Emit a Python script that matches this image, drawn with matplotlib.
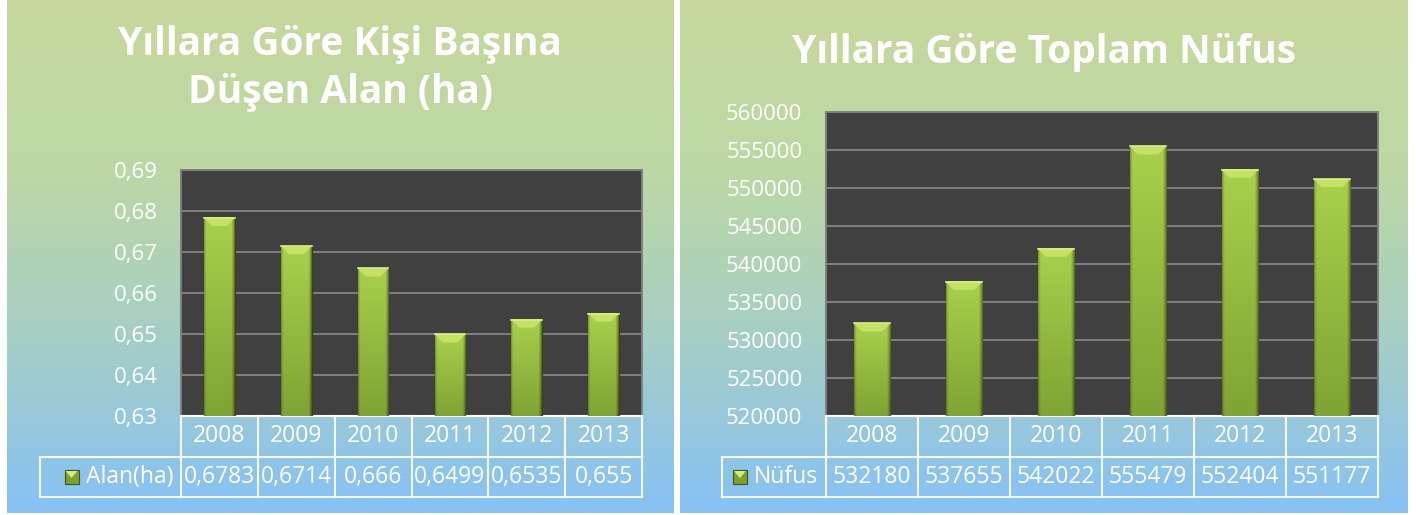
import matplotlib.pyplot as plt
import numpy as np
import matplotlib.transforms as mtransforms
from matplotlib.patches import Rectangle, Polygon
from matplotlib.colors import LinearSegmentedColormap, to_rgb

# data
years = ['2008', '2009', '2010', '2011', '2012', '2013']
alan = [0.6783, 0.6714, 0.666, 0.6499, 0.6535, 0.655]
nufus = [532180, 537655, 542022, 555479, 552404, 551177]
alan_label = 'Alan(ha)'
nufus_label = 'Nüfus'
alan_title = 'Yıllara Göre Kişi Başına\nDüşen Alan (ha)'
nufus_title = 'Yıllara Göre Toplam Nüfus'

plt.rcParams['font.family'] = ['Open Sans', 'DejaVu Sans']

W, H = 1416, 515
fig = plt.figure(figsize=(W / 100, H / 100), dpi=100)
renderer = fig.canvas.get_renderer()


def box(x0, y0, x1, y1):
    # pixel box -> figure fraction [left, bottom, width, height]
    return [x0 / W, 1 - y1 / H, (x1 - x0) / W, (y1 - y0) / H]


bg_cmap = LinearSegmentedColormap.from_list('bg', ['#c6d89c', '#bdd7a5', '#a5cec6', '#87c1f6'])

# shaded bar body: lighter at the top, darker down and at the sides
top_c, bot_c = np.array(to_rgb('#a9d04c')), np.array(to_rgb('#80a334'))
tv = np.linspace(1, 0, 200).reshape(-1, 1, 1)
body = bot_c + (top_c - bot_c) * tv
body = np.repeat(body, 40, axis=1)
side = np.ones(40)
side[:3] = [0.75, 0.88, 0.95]
side[-4:] = [0.92, 0.82, 0.7, 0.55]
body = np.clip(body * side.reshape(1, -1, 1), 0, 1)


def draw_panel(pbox, abox, leg_x, title, title_y, values, label, ylim, step, tick_fmt, val_fmt):
    bg = fig.add_axes(box(*pbox), zorder=0)
    grad = np.linspace(0, 1, 256).reshape(-1, 1)
    bg.imshow(grad, cmap=bg_cmap, aspect='auto', extent=[0, 1, 0, 1])
    bg.set_axis_off()

    fig.text((pbox[0] + pbox[2]) / 2 / W, 1 - title_y / H, title, ha='center', va='center',
             color='white', fontsize=28, fontweight='bold', linespacing=1.3, zorder=5)

    ax = fig.add_axes(box(*abox), zorder=2)
    ax.set_facecolor('#404040')
    x = np.arange(len(years))
    ymin, ymax = ylim
    ticks = np.arange(ymin, ymax + step / 2, step)
    ax.set_yticks(ticks)
    ax.set_yticklabels([tick_fmt(t) for t in ticks])
    ax.set_xticks([])
    ax.tick_params(axis='y', length=0, pad=17, labelsize=16, labelcolor='white')
    ax.grid(axis='y', color='#808080', lw=1.4, zorder=1)
    ax.set_axisbelow(True)
    for s in ['left', 'top', 'right']:
        ax.spines[s].set_color('#808080')
        ax.spines[s].set_linewidth(1.4)
    ax.spines['bottom'].set_color('white')
    ax.spines['bottom'].set_linewidth(1.5)

    plot_h = abox[3] - abox[1]
    col_w = (abox[2] - abox[0]) / len(years)
    dy = 8 * (ymax - ymin) / plot_h
    bw = 0.4
    e = 8 / col_w
    for xi, v in zip(x, values):
        x0, x1 = xi - bw / 2, xi + bw / 2
        ax.add_patch(Rectangle((x0, ymin), bw, v - ymin, facecolor='#93bd3a',
                               edgecolor='#34470c', lw=0.9, zorder=3))
        ax.imshow(body, aspect='auto', extent=[x0, x1, ymin, v], zorder=3.5)
        ax.add_patch(Polygon([(x0, v), (x1, v), (x1 - e, v - dy), (x0 + e, v - dy)], closed=True,
                             facecolor='#c4e366', edgecolor='none', zorder=4))
        ax.plot([x0, x1], [v, v], color='#d8f08a', lw=1.2, zorder=4.5)
    ax.set_xlim(-0.5, len(years) - 0.5)
    ax.set_ylim(ymin, ymax)

    # data table under the plot
    tr = mtransforms.blended_transform_factory(ax.transData, fig.transFigure)
    y_top, y_mid, y_bot = 1 - abox[3] / H, 1 - 457 / H, 1 - 497 / H
    lc = dict(color='white', lw=1.5, alpha=0.9, clip_on=False, zorder=5)
    for b in np.arange(-0.5, len(years), 1.0):
        ax.plot([b, b], [y_top, y_bot], transform=tr, **lc)
    ax.plot([-0.5, len(years) - 0.5], [y_mid, y_mid], transform=tr, **lc)
    ax.plot([-0.5, len(years) - 0.5], [y_bot, y_bot], transform=tr, **lc)
    fig.add_artist(plt.Line2D([leg_x / W, abox[0] / W], [y_mid, y_mid], **lc))
    fig.add_artist(plt.Line2D([leg_x / W, abox[0] / W], [y_bot, y_bot], **lc))
    fig.add_artist(plt.Line2D([leg_x / W, leg_x / W], [y_mid, y_bot], **lc))
    for xi, yr, v in zip(x, years, values):
        ax.text(xi, (y_top + y_mid) / 2, yr, transform=tr, ha='center', va='center',
                color='white', fontsize=16.5, zorder=6)
        ax.text(xi, (y_mid + y_bot) / 2, val_fmt(v), transform=tr, ha='center', va='center',
                color='white', fontsize=16.5, zorder=6)
    # legend key: label right-aligned in its cell, key just left of it
    yc = (y_mid + y_bot) / 2
    t = fig.text((abox[0] - 8) / W, yc, label, ha='right', va='center', color='white',
                 fontsize=16.5, zorder=6)
    kx = t.get_window_extent(renderer=renderer).x0 - 14
    fig.add_artist(Rectangle(((kx - 7) / W, yc - 7 / H), 14 / W, 14 / H, transform=fig.transFigure,
                             facecolor='#7fa02e', edgecolor='#3f5510', lw=0.8, zorder=6))
    fig.add_artist(Polygon([((kx - 6) / W, yc + 6 / H), ((kx + 6) / W, yc + 6 / H), (kx / W, yc - 1 / H)],
                           closed=True, transform=fig.transFigure, facecolor='#d2ec80',
                           edgecolor='none', zorder=7))


draw_panel((7, 0, 673, 513), (181, 170, 642, 416), 40, alan_title, 68, alan, alan_label,
           (0.63, 0.69), 0.01,
           lambda t: f'{t:.2f}'.replace('.', ','),
           lambda v: f'{v:g}'.replace('.', ','))
draw_panel((680, 0, 1408, 513), (826, 112, 1378, 416), 722, nufus_title, 52, nufus, nufus_label,
           (520000, 560000), 5000,
           lambda t: f'{int(round(t))}',
           lambda v: f'{v}')

fig.savefig('out.png', dpi=100)
